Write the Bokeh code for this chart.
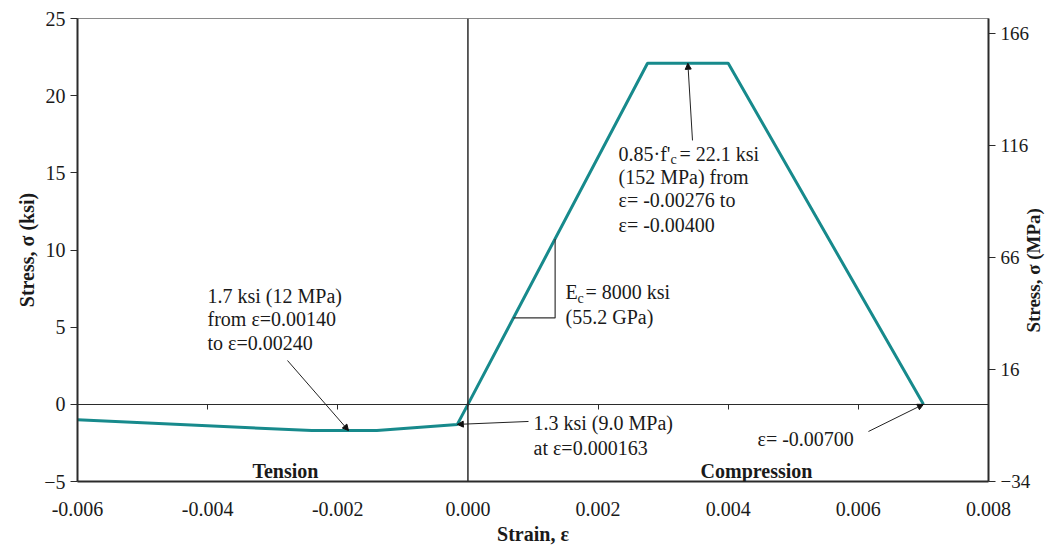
import math
from bokeh.plotting import figure
from bokeh.models import (Range1d, LinearAxis, FixedTicker, Span, Label, Arrow,
                          NormalHead, NumeralTickFormatter, CustomJSTickFormatter)
from bokeh.embed import file_html
from bokeh.resources import INLINE

# ---------------- data ----------------
strain = [-0.006, -0.0024, -0.0014, -0.000163, 0.0, 0.00276, 0.004, 0.007]
stress_ksi = [-1.0, -1.7, -1.7, -1.3, 0.0, 22.1, 22.1, 0.0]

x_ticks = [-0.006, -0.004, -0.002, 0.0, 0.002, 0.004, 0.006, 0.008]
y_ticks = [-5, 0, 5, 10, 15, 20, 25]
mpa_ticks = [-34, 16, 66, 116, 166]

# slope triangle for Ec
tri_x = [0.0007, 0.00134, 0.00134]
tri_y = [5.6, 5.6, 10.72]

FONT = "Liberation Serif"
AX = "#2b2b2b"
TEAL = "#178a8c"
TXT = "#1a1a1a"

p = figure(width=1057, height=550,
           x_range=Range1d(-0.006, 0.008), y_range=Range1d(-5, 25),
           output_backend="svg", toolbar_location=None,
           min_border_left=77, min_border_right=69,
           min_border_top=18, min_border_bottom=69)
p.grid.visible = False
p.outline_line_color = "#8a8a8a"
p.outline_line_width = 1
p.background_fill_color = "white"
p.border_fill_color = "white"

# bottom axis
xa = p.below[0]
xa.ticker = FixedTicker(ticks=x_ticks)
xa.formatter = NumeralTickFormatter(format="0.000")
xa.major_tick_out = 0
xa.major_tick_in = 0
xa.minor_tick_out = 0
xa.minor_tick_in = 0
xa.axis_line_width = 2
xa.axis_line_color = AX
xa.major_label_standoff = 20
xa.major_label_text_font = FONT
xa.major_label_text_font_size = "20px"
xa.major_label_text_color = TXT
xa.axis_label = "Strain, ε"
xa.axis_label_standoff = 4
xa.axis_label_text_font = FONT
xa.axis_label_text_font_size = "20px"
xa.axis_label_text_font_style = "bold"
xa.axis_label_text_color = TXT

# left axis
ya = p.left[0]
ya.ticker = FixedTicker(ticks=y_ticks)
ya.major_tick_out = 7
ya.major_tick_in = 0
ya.minor_tick_out = 0
ya.minor_tick_in = 0
ya.axis_line_width = 2
ya.axis_line_color = AX
ya.major_tick_line_color = AX
ya.major_label_standoff = 5
ya.major_label_text_font = FONT
ya.major_label_text_font_size = "20px"
ya.major_label_text_color = TXT
ya.axis_label = "Stress, σ (ksi)"
ya.axis_label_standoff = 3
ya.axis_label_text_font = FONT
ya.axis_label_text_font_size = "20px"
ya.axis_label_text_font_style = "bold"
ya.axis_label_text_color = TXT

# right axis (MPa)
p.extra_y_ranges = {"mpa": Range1d(-34, 172.7)}
ra = LinearAxis(y_range_name="mpa", ticker=FixedTicker(ticks=mpa_ticks))
ra.major_tick_out = 7
ra.major_tick_in = 0
ra.minor_tick_out = 0
ra.minor_tick_in = 0
ra.axis_line_width = 2
ra.axis_line_color = AX
ra.major_tick_line_color = AX
ra.major_label_standoff = 5
ra.major_label_text_font = FONT
ra.major_label_text_font_size = "19px"
ra.major_label_text_color = TXT
p.add_layout(ra, "right")

# right title, reading bottom-to-top: drawn as the single label of an
# extra, line-less axis whose text starts at the anchor value
right_title = "Stress, σ (MPa)"
right_title_start = 4.65  # ksi level where the rotated title begins
ta = LinearAxis(ticker=FixedTicker(ticks=[right_title_start]),
                formatter=CustomJSTickFormatter(args=dict(t=right_title), code="return t"))
ta.axis_line_color = None
ta.major_tick_line_color = None
ta.minor_tick_line_color = None
ta.major_tick_out = 0
ta.major_tick_in = 0
ta.minor_tick_out = 0
ta.minor_tick_in = 0
ta.major_label_standoff = 0
ta.major_label_orientation = math.pi / 2
ta.major_label_text_font = FONT
ta.major_label_text_font_size = "19px"
ta.major_label_text_font_style = "bold"
ta.major_label_text_color = TXT
p.add_layout(ta, "right")

# axis through zero (ticks hanging down, no labels)
za = LinearAxis(fixed_location=0, ticker=FixedTicker(ticks=x_ticks),
                formatter=CustomJSTickFormatter(code="return ''"))
za.major_tick_in = 0
za.major_tick_out = 5
za.minor_tick_in = 0
za.minor_tick_out = 0
za.axis_line_color = AX
za.axis_line_width = 1.2
za.major_tick_line_color = AX
p.add_layout(za, "below")

p.add_layout(Span(location=0, dimension="height", line_color=AX, line_width=1.5))

# curve
p.line(strain, stress_ksi, line_color=TEAL, line_width=3)

# slope triangle
p.line(tri_x, tri_y, line_color="#333333", line_width=1.2)


def lab(x, y, text, size="20px", bold=False, align="left", x_offset=0):
    p.add_layout(Label(x=x, y=y, text=text, text_font=FONT, text_font_size=size,
                       text_font_style="bold" if bold else "normal",
                       text_align=align, text_baseline="middle",
                       x_offset=x_offset, text_color=TXT))


# annotation 1: plateau
a1x = 0.002314
lab(a1x, 16.25, "0.85·f'")
lab(a1x, 16.25 - 0.4, "c", size="14px", x_offset=52)
lab(a1x, 16.25, "= 22.1 ksi", x_offset=61)
lab(a1x, 14.70, "(152 MPa) from")
lab(a1x, 13.21, "ε= -0.00276 to")
lab(a1x, 11.59, "ε= -0.00400")

# annotation 2: modulus
a2x = 0.0015
lab(a2x, 7.25, "E")
lab(a2x, 7.25 - 0.4, "c", size="14px", x_offset=12)
lab(a2x, 7.25, "= 8000 ksi", x_offset=20)
lab(a2x, 5.63, "(55.2 GPa)")

# annotation 3: tension plateau
a3x = -0.004002
lab(a3x, 7.05, "1.7 ksi (12 MPa)")
lab(a3x, 5.56, "from ε=0.00140")
lab(a3x, 4.00, "to ε=0.00240")

# annotation 4: cracking
a4x = 0.001008
lab(a4x, -1.24, "1.3 ksi (9.0 MPa)")
lab(a4x, -2.80, "at ε=0.000163")

# annotation 5: ultimate strain
lab(0.00445, -2.22, "ε= -0.00700")

# region labels
lab(-0.002804, -4.35, "Tension", bold=True, align="center")
lab(0.004435, -4.35, "Compression", bold=True, align="center")


# leader arrows
def arrow(xs, ys, xe, ye):
    p.add_layout(Arrow(x_start=xs, y_start=ys, x_end=xe, y_end=ye,
                       line_color="#222222", line_width=1,
                       end=NormalHead(size=6, fill_color="#111111", line_color="#111111")))


arrow(0.003451, 17.10, 0.00338, stress_ksi[5])
arrow(-0.002773, 2.84, -0.001835, stress_ksi[1])
arrow(0.000931, -1.11, strain[3], stress_ksi[3])
arrow(0.006155, -1.76, strain[-1], stress_ksi[-1])

open("out.html", "w").write(file_html(p, INLINE))
